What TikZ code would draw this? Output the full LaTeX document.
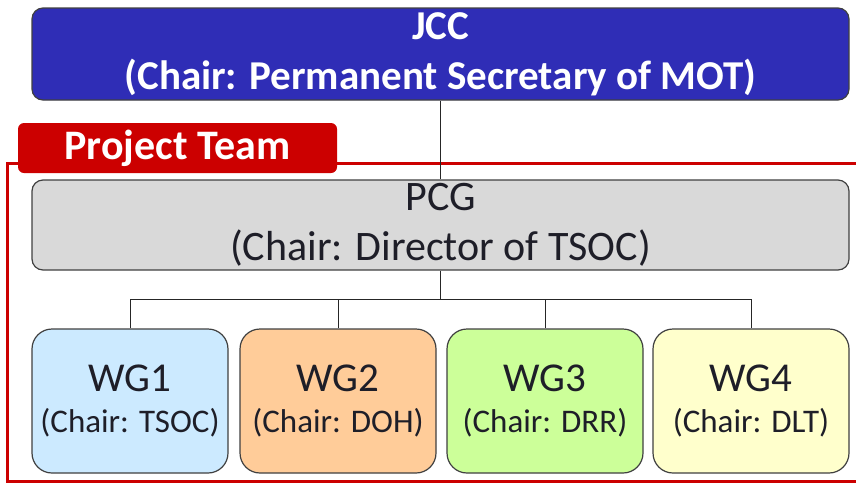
\documentclass[tikz,border=0pt]{standalone}
\usepackage{fontspec}
\setmainfont{Carlito}
\definecolor{jccblue}{RGB}{47,45,182}
\definecolor{ptred}{RGB}{204,0,0}
\definecolor{pcggray}{RGB}{217,217,217}
\definecolor{wgblue}{RGB}{204,234,255}
\definecolor{wgorange}{RGB}{255,204,153}
\definecolor{wggreen}{RGB}{204,255,153}
\definecolor{wgyellow}{RGB}{255,255,204}
\definecolor{txt}{RGB}{30,30,40}
\begin{document}
\begin{tikzpicture}[x=1pt,y=-1pt,
  box/.style={draw=black!75, line width=1.2pt, align=center, inner sep=0pt},
  bigbox/.style={box, rounded corners=11pt, minimum width=817pt, minimum height=92pt},
  wgbox/.style={box, rounded corners=20pt, minimum width=196pt, minimum height=144pt, text=txt},
  conn/.style={draw=black!85, line width=1pt},
  frame/.style={draw=ptred, line width=3pt}]
\useasboundingbox (0,0) rectangle (856,483);
\clip (0,0) rectangle (856,483);
% project team frame
\draw[frame] (7,163) rectangle (880,481);
\node[fill=ptred, rounded corners=6pt, minimum width=319pt, minimum height=50pt, inner sep=0pt,
  text=white, font=\bfseries\fontsize{42}{44}\selectfont] (pt) at (177.5,148) {Project Team};
% JCC
\node[bigbox, fill=jccblue, text=white, font=\bfseries\fontsize{41}{50}\selectfont] (jcc) at (440.5,54)
  {JCC\\(Chair: Permanent Secretary of MOT)};
% PCG
\node[bigbox, fill=pcggray, text=txt, minimum height=90pt, font=\fontsize{42}{50}\selectfont] (pcg) at (440.5,225)
  {\raisebox{-4pt}{PCG}\\\raisebox{-4pt}{(Chair: Director of TSOC)}};
% WGs
\newcommand{\wglabel}[2]{{\fontsize{41}{45}\selectfont #1}\\[16pt]{\fontsize{33}{40}\selectfont #2}}
\node[wgbox, fill=wgblue] (wg1) at (130,401) {\wglabel{WG1}{(Chair: TSOC)}};
\node[wgbox, fill=wgorange] (wg2) at (338,401) {\wglabel{WG2}{(Chair: DOH)}};
\node[wgbox, fill=wggreen] (wg3) at (545,401) {\wglabel{WG3}{(Chair: DRR)}};
\node[wgbox, fill=wgyellow] (wg4) at (751,401) {\wglabel{WG4}{(Chair: DLT)}};
% connectors
\draw[conn] (jcc.south) -- (pcg.north);
\draw[conn] (pcg.south) -- ++(0,29) coordinate (bus);
\draw[conn] (wg1.north) -- (wg1.north |- bus) -- (wg4.north |- bus) -- (wg4.north);
\draw[conn] (wg2.north) -- (wg2.north |- bus);
\draw[conn] (wg3.north) -- (wg3.north |- bus);
\end{tikzpicture}
\end{document}
